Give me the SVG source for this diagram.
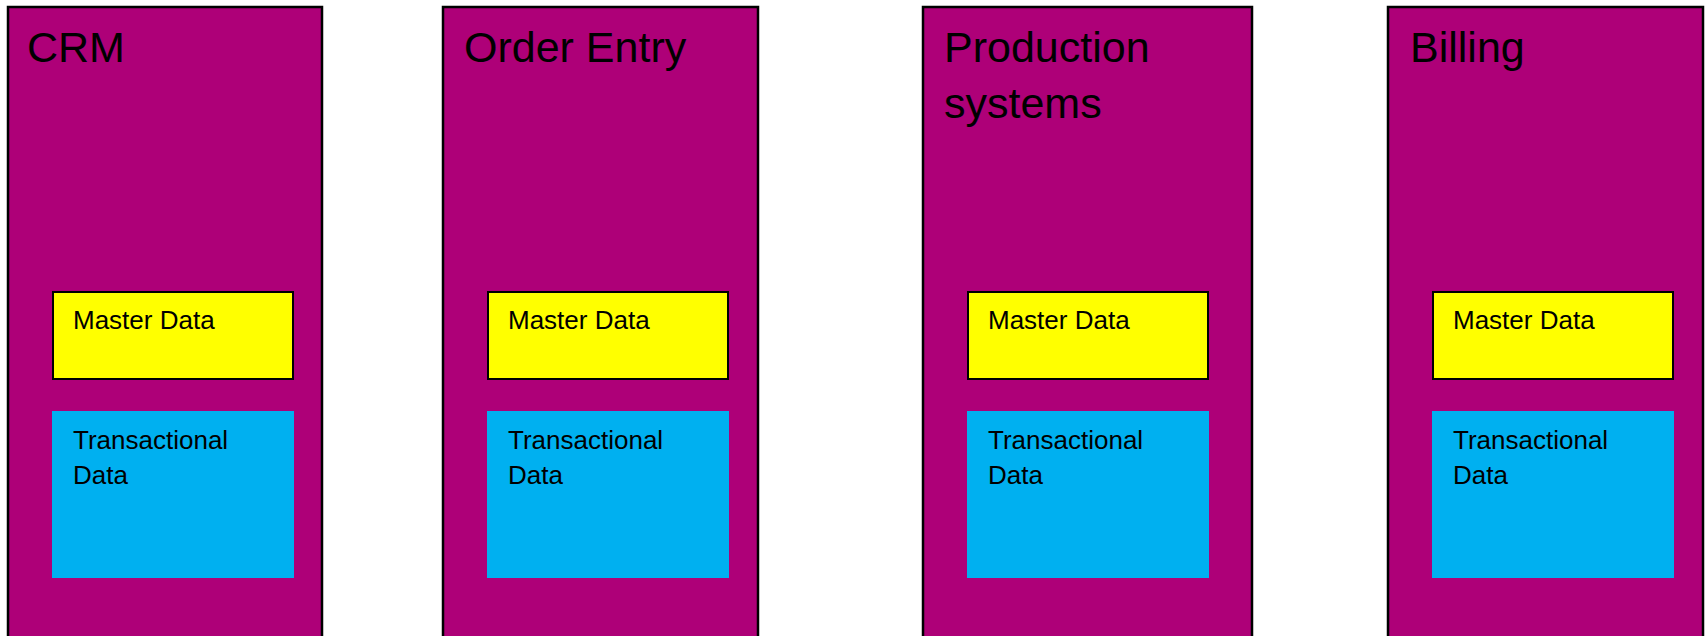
<svg xmlns="http://www.w3.org/2000/svg" width="1706" height="636" viewBox="0 0 1706 636">
<style>
.sys{fill:#AE0078;stroke:#000;stroke-width:2.5}
.md{fill:#FFFF00;stroke:#000;stroke-width:2}
.td{fill:#00B0F0}
.t{font-family:"Liberation Sans",Arial,sans-serif;fill:#000}
.big{font-size:43px}
.sm{font-size:26px}
</style>
<rect width="1706" height="636" fill="#fff"/>
<g id="connectors"></g>
<g id="crm">
<rect class="sys" x="8" y="7" width="314" height="640"/>
<text class="t big" x="27" y="62">CRM</text>
<g id="crm-master"><rect class="md" x="53" y="292" width="240" height="87"/><text class="t sm" x="73" y="329">Master Data</text></g>
<g id="crm-trans"><rect class="td" x="52" y="411" width="242" height="167"/><text class="t sm" x="73" y="449">Transactional</text><text class="t sm" x="73" y="484">Data</text></g>
</g>
<g id="order-entry">
<rect class="sys" x="443" y="7" width="315" height="640"/>
<text class="t big" x="464" y="62">Order Entry</text>
<g id="oe-master"><rect class="md" x="488" y="292" width="240" height="87"/><text class="t sm" x="508" y="329">Master Data</text></g>
<g id="oe-trans"><rect class="td" x="487" y="411" width="242" height="167"/><text class="t sm" x="508" y="449">Transactional</text><text class="t sm" x="508" y="484">Data</text></g>
</g>
<g id="production">
<rect class="sys" x="923" y="7" width="329" height="640"/>
<text class="t big" x="944" y="62">Production</text>
<text class="t big" x="944" y="118">systems</text>
<g id="prod-master"><rect class="md" x="968" y="292" width="240" height="87"/><text class="t sm" x="988" y="329">Master Data</text></g>
<g id="prod-trans"><rect class="td" x="967" y="411" width="242" height="167"/><text class="t sm" x="988" y="449">Transactional</text><text class="t sm" x="988" y="484">Data</text></g>
</g>
<g id="billing">
<rect class="sys" x="1388" y="7" width="315" height="640"/>
<text class="t big" x="1410" y="62">Billing</text>
<g id="bill-master"><rect class="md" x="1433" y="292" width="240" height="87"/><text class="t sm" x="1453" y="329">Master Data</text></g>
<g id="bill-trans"><rect class="td" x="1432" y="411" width="242" height="167"/><text class="t sm" x="1453" y="449">Transactional</text><text class="t sm" x="1453" y="484">Data</text></g>
</g>
</svg>
